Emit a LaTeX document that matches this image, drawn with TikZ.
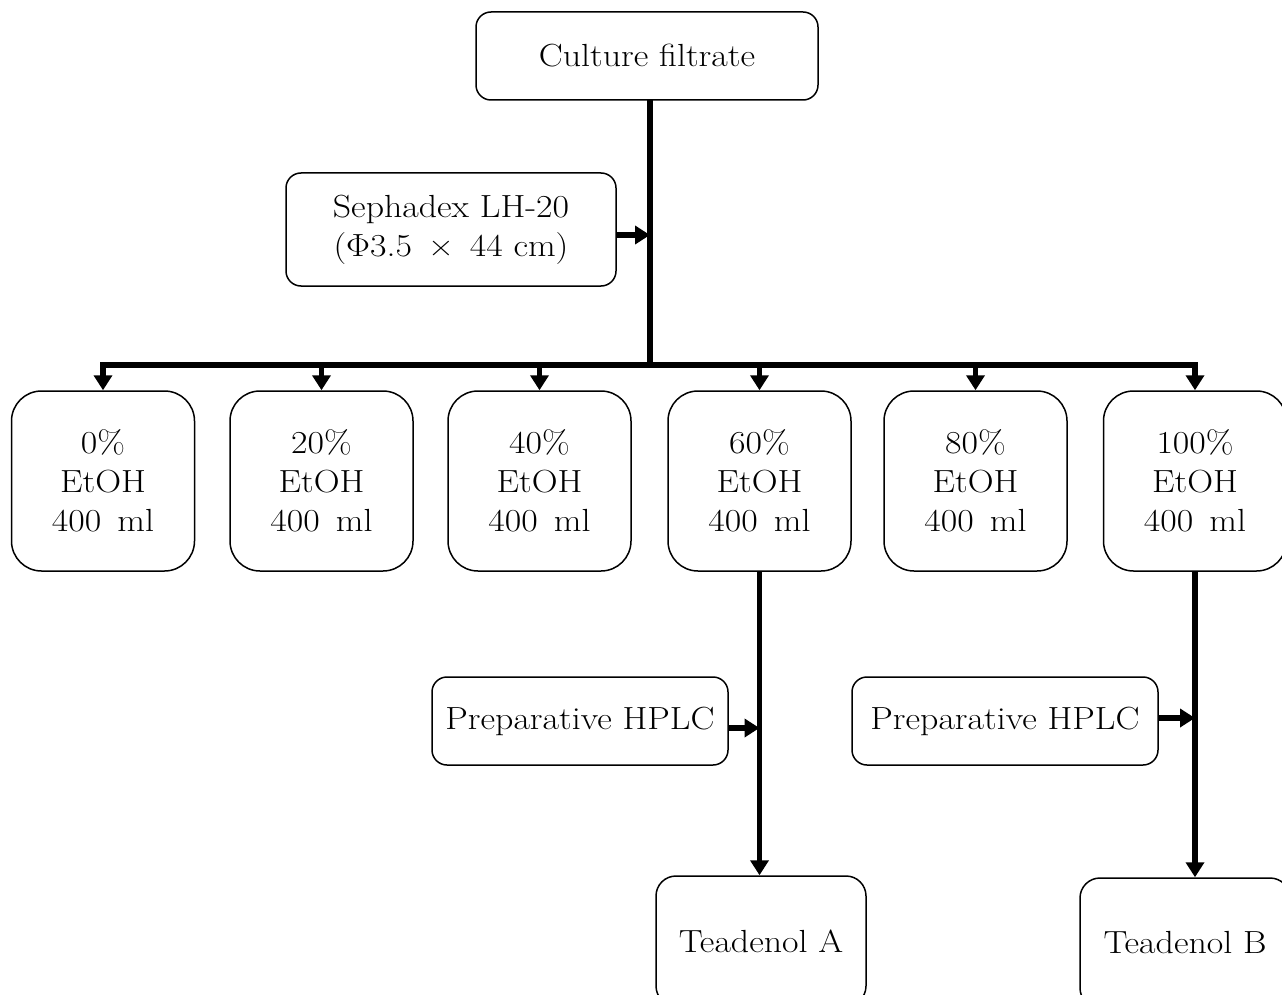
\documentclass[tikz,border=0pt]{standalone}
\usepackage{fontspec}
\setmainfont{Latin Modern Roman}[FakeStretch=1.12]
\usetikzlibrary{arrows.meta}
\begin{document}
\begin{tikzpicture}[x=1pt,y=-1pt,
  box/.style={draw, line width=1.5pt, rounded corners=#1, align=center, inner sep=0pt,
    font=\fontsize{32}{39}\selectfont},
  box/.default=15pt,
  flow/.style={line width=5.5pt, -{Triangle[length=15pt,width=18pt]}},
  plain/.style={line width=5.5pt}]
\useasboundingbox (0,0) rectangle (1282,995);
\clip (0,0) rectangle (1282,995);
\node[box, minimum width=342pt, minimum height=88pt] (cf) at (647,56) {Culture filtrate};
\node[box, minimum width=330pt, minimum height=113pt] (seph) at (451,229.5) {Sephadex LH-20\\(Φ3.5\enspace×\enspace44 cm)};
\coordinate (bar) at (650,365);
\coordinate (top) at (650,100);
\draw[plain] (top) -- (bar);
\draw[flow] ([yshift=-5.5pt]seph.east) -- ([yshift=-5.5pt]seph.east -| top);
\foreach \n/\x/\p in {b0/103/0\%, b1/321.5/20\%, b2/539.5/40\%, b3/759.5/60\%, b4/975.5/80\%, b5/1195/100\%}{
  \node[box=30pt, minimum width=183pt, minimum height=180pt] (\n) at (\x,481) {\p\\EtOH\\400\, ml};
  \draw[flow] (bar) -| (\n.north);
}
\node[box, minimum width=296pt, minimum height=88pt] (h1) at (580,721) {Preparative HPLC};
\node[box, minimum width=306pt, minimum height=88pt] (h2) at (1005,721) {Preparative HPLC};
\node[box=20pt, minimum width=210pt, minimum height=130pt] (tA) at (761,941) {Teadenol A};
\node[box=20pt, minimum width=210pt, minimum height=130pt] (tB) at (1185,943) {Teadenol B};
\draw[flow] (b3.south) -- (b3.south |- tA.north);
\draw[flow] (b5.south) -- (b5.south |- tB.north);
\draw[flow] ([yshift=-7pt]h1.east) -- ([yshift=-7pt]h1.east -| b3.south);
\draw[flow] ([yshift=3pt]h2.east) -- ([yshift=3pt]h2.east -| b5.south);
\end{tikzpicture}
\end{document}
